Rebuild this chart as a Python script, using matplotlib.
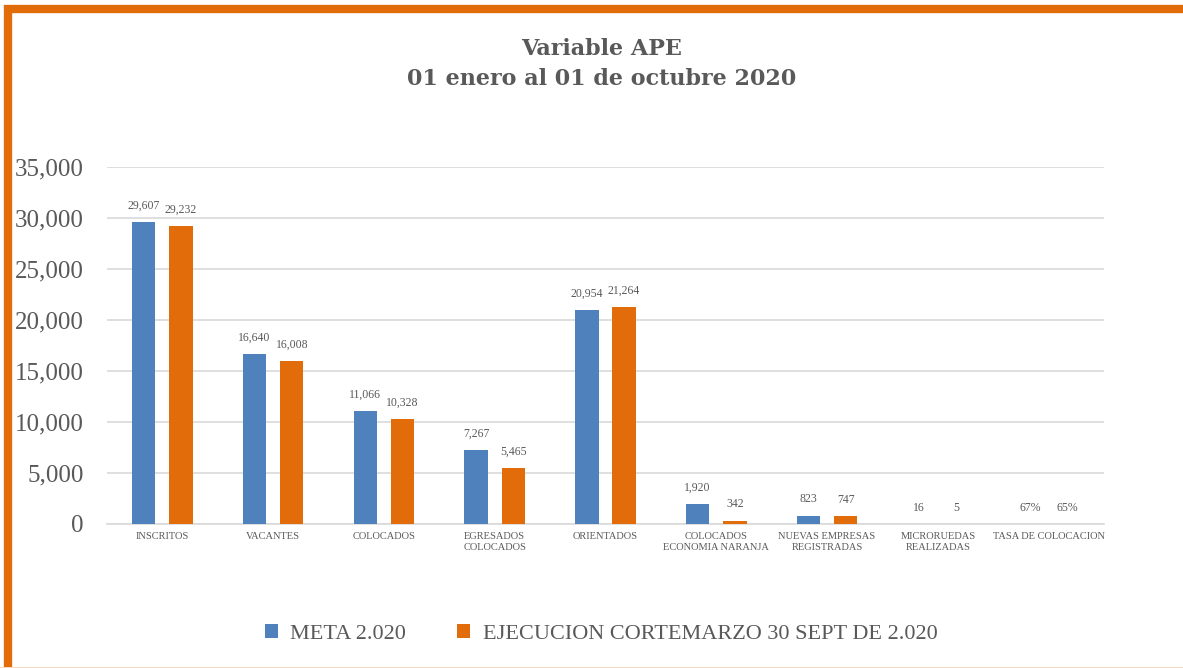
import matplotlib.pyplot as plt
import numpy as np
from matplotlib.patches import Rectangle

# datos
categorias = ["INSCRITOS", "VACANTES", "COLOCADOS", "EGRESADOS\nCOLOCADOS", "ORIENTADOS",
              "COLOCADOS\nECONOMIA NARANJA", "NUEVAS EMPRESAS\nREGISTRADAS",
              "MICRORUEDAS\nREALIZADAS", "TASA DE COLOCACION"]
meta = [29607, 16640, 11066, 7267, 20954, 1920, 823, 16, 0.67]
ejecucion = [29232, 16008, 10328, 5465, 21264, 342, 747, 5, 0.65]
serie_meta = "META 2.020"
serie_ejec = "EJECUCION CORTEMARZO 30 SEPT DE 2.020"

azul = "#4f81bd"
naranja = "#e36c0a"
gris = "#595959"

def etiqueta(v):
    if v < 1:
        return "{:.0f}%".format(v * 100)
    return "{:,.0f}".format(v)

fig = plt.figure(figsize=(11.83, 6.68), dpi=100)
ax = fig.add_axes([107 / 1183, 1 - 524 / 668, 997 / 1183, 357 / 668])

x = np.arange(len(categorias))
w = 0.21
off = 0.168
b1 = ax.bar(x - off, meta, w, color=azul, label=serie_meta, zorder=3)
b2 = ax.bar(x + off, ejecucion, w, color=naranja, label=serie_ejec, zorder=3)

for bars, vals in ((b1, meta), (b2, ejecucion)):
    for r, v in zip(bars, vals):
        ax.text(r.get_x() + r.get_width() / 2, r.get_height() + 1000, etiqueta(v),
                ha="center", va="bottom", fontsize=8.5, color=gris, family="Liberation Serif")

ax.set_xlim(-0.5, len(categorias) - 0.5)
ax.set_ylim(0, 35000)
ax.set_yticks(range(0, 35001, 5000))
ax.set_yticklabels(["{:,}".format(t) for t in range(0, 35001, 5000)],
                   family="Liberation Serif", fontsize=18, color=gris)
ax.set_xticks(x)
ax.set_xticklabels(categorias, family="Liberation Serif", fontsize=7.5, color=gris,
                   linespacing=1.3)
ax.tick_params(axis="both", length=0)
ax.tick_params(axis="y", pad=17)
ax.tick_params(axis="x", pad=6)
ax.grid(axis="y", color="#d9d9d9", lw=1.2, zorder=0)
for s in ["top", "right", "left"]:
    ax.spines[s].set_visible(False)
ax.spines["bottom"].set_color("#d9d9d9")
ax.spines["bottom"].set_linewidth(1.2)

fig.text(602 / 1183, 1 - 64 / 668, "Variable APE\n01 enero al 01 de octubre 2020",
         ha="center", va="center", fontsize=16, fontweight="bold", color=gris,
         family="DejaVu Serif", linespacing=1.42)

fig.legend(handles=[b1, b2], loc="center", bbox_to_anchor=(601 / 1183, 1 - 634 / 668),
           ncol=2, frameon=False, prop={"family": "Liberation Serif", "size": 16},
           labelcolor=gris, handlelength=0.6, handleheight=0.6, columnspacing=2.3,
           handletextpad=0.55)

# marco naranja
fig.patches.append(Rectangle((8 / 1183, -0.5), 1.2, 1 - 9 / 668 + 0.5, transform=fig.transFigure,
                             fill=False, edgecolor=naranja, lw=6, zorder=10))
fig.patches.append(Rectangle((0, 0), 1, 1.5 / 668, transform=fig.transFigure,
                             color="#f5d9c5", lw=0, zorder=10))

fig.savefig("out.png", dpi=100)
